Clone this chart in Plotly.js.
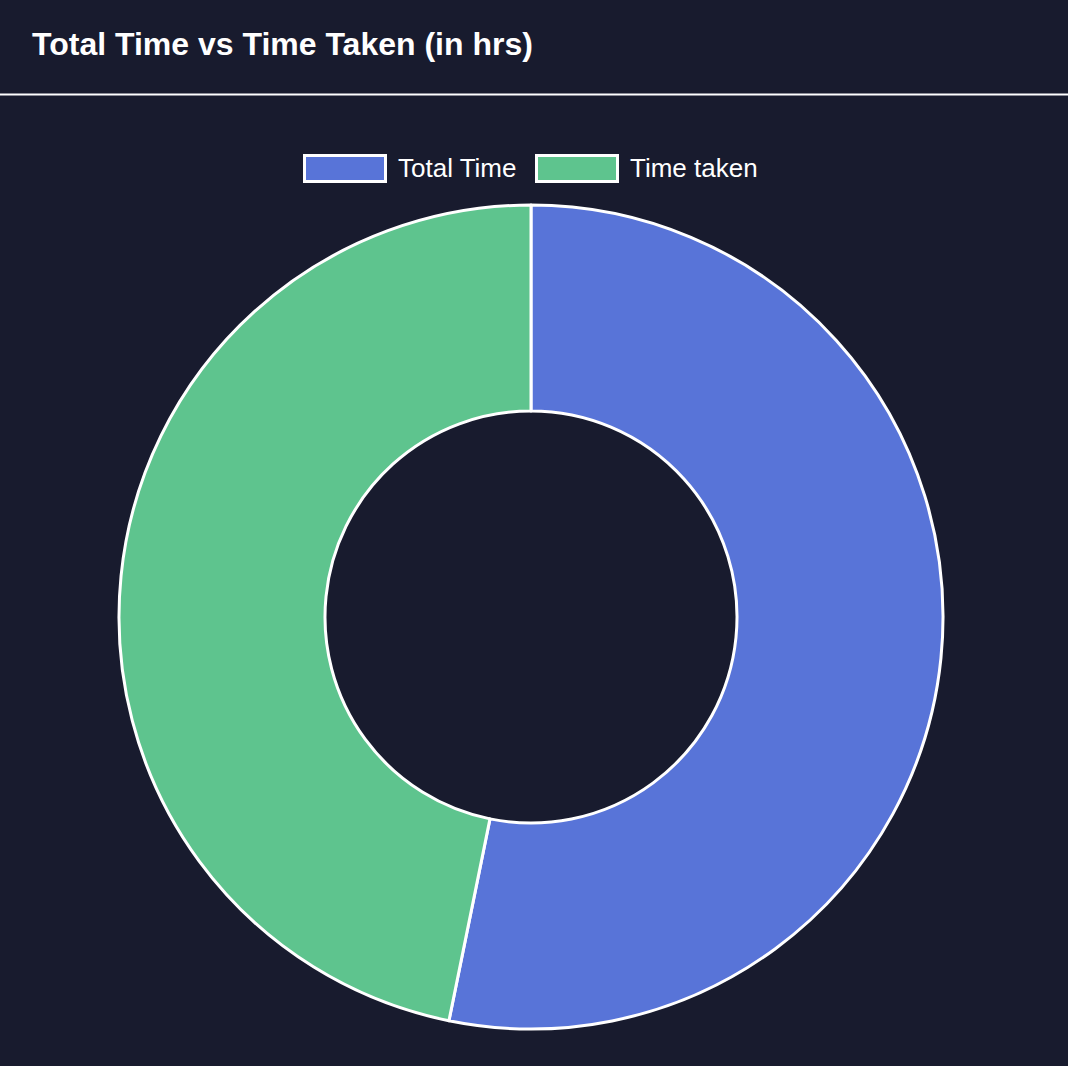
<!DOCTYPE html>
<html>
<head>
<meta charset="utf-8">
<script src="https://cdn.plot.ly/plotly-3.0.1.min.js"></script>
<style>
  html, body { margin: 0; padding: 0; background: #181b2e; }
  #chart { width: 1068px; height: 1066px; }
</style>
</head>
<body>
<div id="chart"></div>
<script>
const titleText = "Total Time vs Time Taken (in hrs)";
const labels = ["Total Time", "Time taken"];
const values = [100, 88];
const colors = ["#5874d8", "#5ec48e"];

const W = 1068, H = 1066;
const px = x => x / W;
const py = y => 1 - y / H;

// pie geometry
const cx = 531, cy = 617, r = 412;

const trace = {
  type: "pie",
  labels: labels,
  values: values,
  hole: 0.5,
  sort: false,
  direction: "clockwise",
  rotation: 0,
  textinfo: "none",
  hoverinfo: "label+value",
  marker: { colors: colors, line: { color: "#ffffff", width: 3 } },
  domain: { x: [px(cx - r), px(cx + r)], y: [py(cy + r), py(cy - r)] },
  showlegend: false
};

const shapes = [
  { type: "line", xref: "paper", yref: "paper", x0: 0, x1: 1, y0: py(94.5), y1: py(94.5),
    line: { color: "#ffffff", width: 2 } }
];
const annotations = [
  { text: "<b>" + titleText + "</b>", xref: "paper", yref: "paper", x: px(30), y: py(44),
    xanchor: "left", yanchor: "middle", showarrow: false,
    font: { family: "Liberation Sans, Arial, sans-serif", size: 32, color: "#ffffff" } }
];

// custom legend
const legendItems = [
  { bx0: 304.5, bx1: 385.5, tx: 396 },
  { bx0: 536.5, bx1: 617.5, tx: 628 }
];
labels.forEach((lab, i) => {
  const it = legendItems[i];
  shapes.push({ type: "rect", xref: "paper", yref: "paper",
    x0: px(it.bx0), x1: px(it.bx1), y0: py(181.5), y1: py(155.5),
    fillcolor: colors[i], line: { color: "#ffffff", width: 3 } });
  annotations.push({ text: lab, xref: "paper", yref: "paper", x: px(it.tx), y: py(168.5),
    xanchor: "left", yanchor: "middle", showarrow: false,
    font: { family: "Liberation Sans, Arial, sans-serif", size: 26, color: "#ffffff" } });
});

const layout = {
  width: W, height: H,
  margin: { l: 0, r: 0, t: 0, b: 0 },
  paper_bgcolor: "#181b2e",
  plot_bgcolor: "#181b2e",
  showlegend: false,
  shapes: shapes,
  annotations: annotations
};

Plotly.newPlot("chart", [trace], layout, { displayModeBar: false, staticPlot: false });
</script>
</body>
</html>
